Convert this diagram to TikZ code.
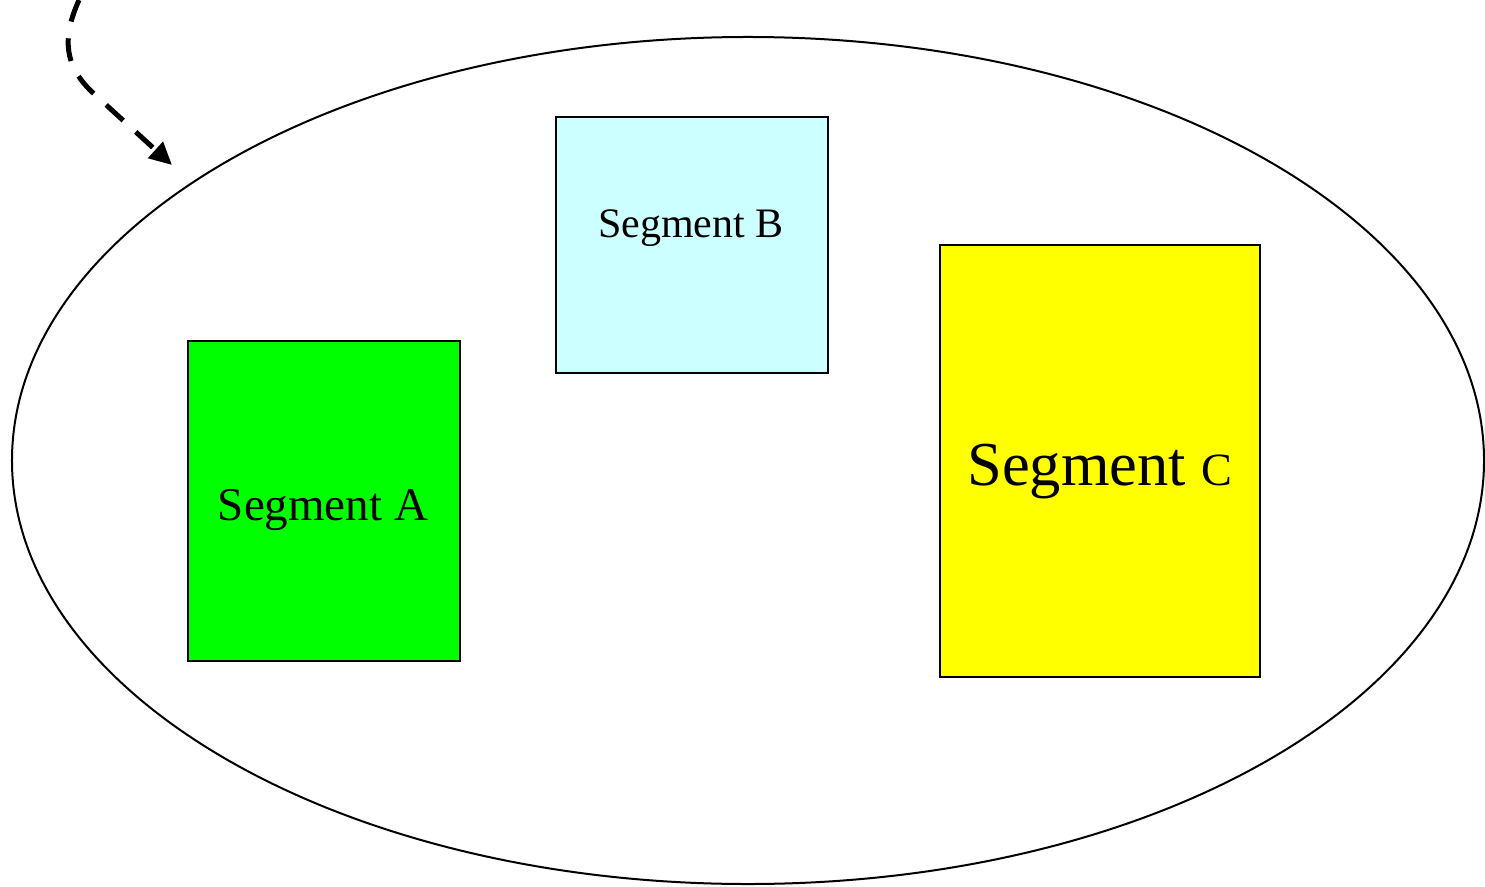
\documentclass[tikz,border=0pt]{standalone}
\usepackage{fontspec}
\setmainfont{Liberation Serif}
\usetikzlibrary{shapes.geometric,arrows.meta}
\begin{document}
\begin{tikzpicture}[x=0.4pt,y=-0.4pt,
  segbox/.style={draw=black,line width=0.8pt,rectangle,inner sep=0pt},
  seglabel/.style={anchor=base,inner sep=0pt,text=black}]
\useasboundingbox (0,0) rectangle (1485,886);
\node[draw=black,line width=0.8pt,ellipse,inner sep=0pt,minimum width=588.8pt,minimum height=338.8pt] (domain) at (748,460.5) {};
\node[segbox,fill={rgb,255:red,0;green,255;blue,0},minimum width=108.8pt,minimum height=128pt] (boxA) at (324,501) {};
\node[segbox,fill={rgb,255:red,204;green,255;blue,255},minimum width=108.8pt,minimum height=102.4pt] (boxB) at (692,245) {};
\node[segbox,fill={rgb,255:red,255;green,255;blue,0},minimum width=128pt,minimum height=172.8pt] (boxC) at (1100,461) {};
\node[seglabel,font=\fontsize{18.8}{22}\selectfont] (labA) at (323,520) {Segment A};
\node[seglabel,font=\fontsize{16.8}{20}\selectfont] (labB) at (691,237) {Segment B};
\node[seglabel,font=\fontsize{25}{30}\selectfont] (labC) at (1100,485) {Segment {\fontsize{18.5}{22}\selectfont C}};
\coordinate (arrStart) at (79,0);
\coordinate (arrBend) at (92,92);
\coordinate (arrEnd) at (172,165);
\draw[line width=2pt,dash pattern=on 9.2pt off 6.8pt,-{Triangle[length=9pt,width=8.5pt]}]
  (arrStart) .. controls (62,38) and (64,65) .. (arrBend) -- (arrEnd);
\end{tikzpicture}
\end{document}
